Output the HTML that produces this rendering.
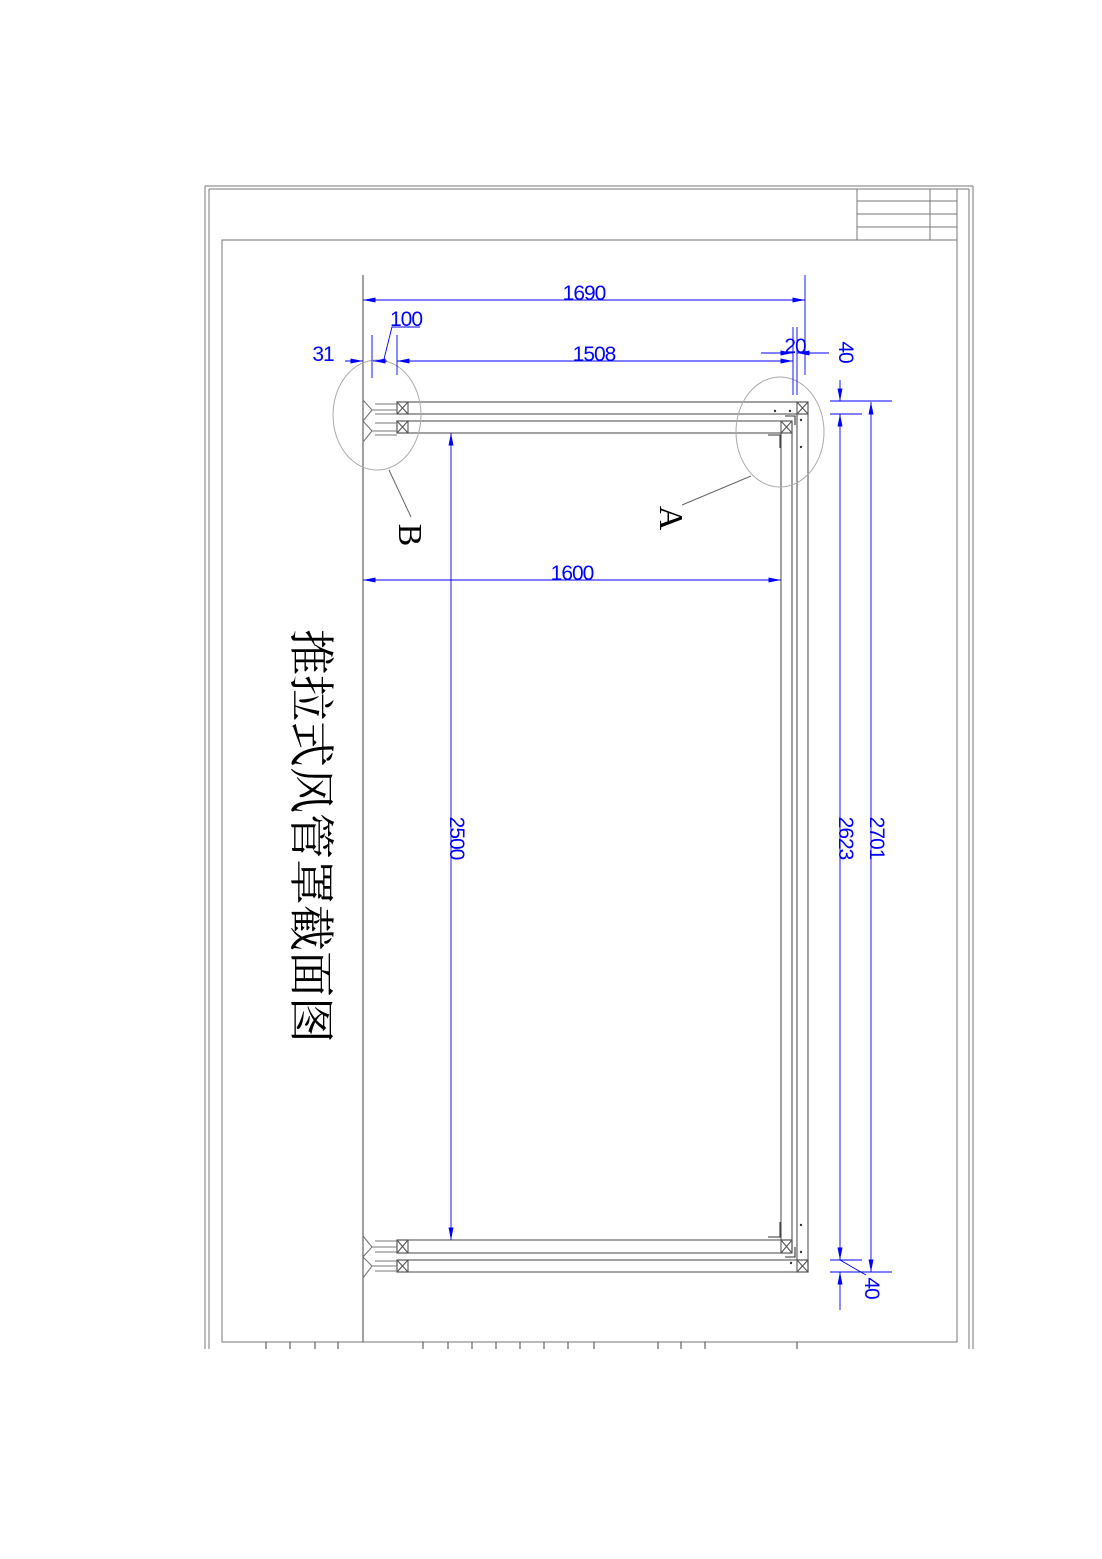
<!DOCTYPE html>
<html><head><meta charset="utf-8"><style>
html,body{margin:0;padding:0;background:#fff}
svg{display:block}
</style></head><body>
<svg width="1102" height="1559" viewBox="0 0 1102 1559" xmlns="http://www.w3.org/2000/svg" font-family="Liberation Sans, sans-serif">
<defs>
<marker id="b" viewBox="0 0 10 4" refX="10" refY="2" markerWidth="16" markerHeight="5" markerUnits="userSpaceOnUse" orient="auto-start-reverse"><path d="M0,0 L10,2 L0,4 z" fill="#00f"/></marker>
</defs>
<!-- frame -->
<g stroke="#777" fill="none" stroke-width="1">
<line x1="205" y1="186" x2="973" y2="186"/>
<line x1="209" y1="189" x2="969" y2="189"/>
<line x1="205" y1="186" x2="205" y2="1349"/>
<line x1="209" y1="189" x2="209" y2="1349"/>
<line x1="973" y1="186" x2="973" y2="1349"/>
<line x1="969" y1="189" x2="969" y2="1349"/>
<rect x="222" y="240" width="735" height="1102"/>
<line x1="957" y1="189" x2="957" y2="240"/>
<line x1="857" y1="189" x2="857" y2="240"/>
<line x1="930" y1="189" x2="930" y2="240"/>
<line x1="857" y1="201" x2="957" y2="201"/>
<line x1="857" y1="214" x2="957" y2="214"/>
<line x1="857" y1="227" x2="957" y2="227"/>
<g stroke="#444">
<line x1="266" y1="1342" x2="266" y2="1349"/><line x1="290" y1="1342" x2="290" y2="1349"/>
<line x1="315" y1="1342" x2="315" y2="1349"/><line x1="338" y1="1342" x2="338" y2="1349"/>
<line x1="423" y1="1342" x2="423" y2="1349"/><line x1="448" y1="1342" x2="448" y2="1349"/>
<line x1="472" y1="1342" x2="472" y2="1349"/><line x1="496" y1="1342" x2="496" y2="1349"/>
<line x1="520" y1="1342" x2="520" y2="1349"/><line x1="544" y1="1342" x2="544" y2="1349"/>
<line x1="568" y1="1342" x2="568" y2="1349"/><line x1="594" y1="1342" x2="594" y2="1349"/>
<line x1="658" y1="1342" x2="658" y2="1349"/><line x1="681" y1="1342" x2="681" y2="1349"/>
<line x1="705" y1="1342" x2="705" y2="1349"/><line x1="797" y1="1342" x2="797" y2="1349"/>
</g>
</g>
<!-- structure -->
<g stroke="#555" fill="none" stroke-width="1.1">
<line x1="363" y1="275" x2="363" y2="1342"/>
<rect x="397" y="402" width="411" height="12"/>
<rect x="397" y="421" width="395" height="12"/>
<rect x="397" y="402" width="11" height="12"/><path d="M397,402 L408,414 M408,402 L397,414"/>
<rect x="397" y="421" width="11" height="12"/><path d="M397,421 L408,433 M408,421 L397,433"/>
<rect x="797" y="402" width="11" height="12"/><path d="M797,402 L808,414 M808,402 L797,414"/>
<rect x="781" y="421" width="11" height="12"/><path d="M781,421 L792,433 M792,421 L781,433"/>
<line x1="797" y1="414" x2="797" y2="1260"/><line x1="808" y1="414" x2="808" y2="1272"/>
<line x1="781" y1="433" x2="781" y2="1240"/><line x1="792" y1="433" x2="792" y2="1253"/>
<rect x="397" y="1240" width="395" height="13"/>
<rect x="397" y="1260" width="411" height="12"/>
<rect x="397" y="1240" width="11" height="13"/><path d="M397,1240 L408,1253 M408,1240 L397,1253"/>
<rect x="397" y="1260" width="11" height="12"/><path d="M397,1260 L408,1272 M408,1260 L397,1272"/>
<rect x="781" y="1240" width="11" height="13"/><path d="M781,1240 L792,1253 M792,1240 L781,1253"/>
<rect x="797" y="1260" width="11" height="12"/><path d="M797,1260 L808,1272 M808,1260 L797,1272"/>
<g stroke="#777">
<path d="M363,400 L372,410 L363,421 L372,431 L363,442"/>
<path d="M372,410 L397,410 M375,404 L397,404 M375,414 L397,414"/>
<path d="M372,431 L397,431 M375,423 L397,423 M375,435 L397,435"/>
<path d="M363,1236 L372,1247 L363,1257 L372,1266 L363,1278"/>
<path d="M372,1247 L397,1247 M375,1241 L397,1241 M375,1252 L397,1252"/>
<path d="M372,1266 L397,1266 M375,1261 L397,1261 M375,1271 L397,1271"/>
</g>
<path d="M768,435 L780,435 L780,448" stroke="#333"/>
<path d="M785,416 L795,416 L795,425" stroke="#333"/>
<path d="M768,1237 L780,1237 L780,1222" stroke="#333"/>
<path d="M785,1257 L795,1257 L795,1247" stroke="#333"/>
<ellipse cx="377" cy="415" rx="44" ry="55" stroke="#aaa" stroke-width="1"/>
<ellipse cx="780" cy="432" rx="44" ry="55" stroke="#aaa" stroke-width="1"/>
<line x1="389" y1="470" x2="411" y2="517" stroke="#666" stroke-width="1"/>
<line x1="751" y1="476" x2="682" y2="505" stroke="#666" stroke-width="1"/>
</g>
<g fill="#333">
<circle cx="775" cy="411" r="1.2"/><circle cx="790" cy="411" r="1.2"/><circle cx="801" cy="420" r="1.2"/><circle cx="801" cy="447" r="1.2"/>
<circle cx="801" cy="1225" r="1.2"/><circle cx="801" cy="1252" r="1.2"/><circle cx="791" cy="1263" r="1.2"/>
</g>
<!-- dimensions -->
<g stroke="#00f" stroke-width="0.9" fill="none">
<line x1="805" y1="275" x2="805" y2="375"/>
<line x1="363" y1="300" x2="805" y2="300" marker-start="url(#b)" marker-end="url(#b)"/>
<line x1="372" y1="335" x2="372" y2="378"/>
<line x1="397" y1="335" x2="397" y2="375"/>
<line x1="345" y1="361" x2="363" y2="361" marker-end="url(#b)"/>
<line x1="387" y1="361" x2="373" y2="361" marker-end="url(#b)"/>
<line x1="397" y1="361" x2="793" y2="361" marker-start="url(#b)" marker-end="url(#b)"/>
<path d="M384,359 L392,327 L420,327"/>
<line x1="793" y1="327" x2="793" y2="395"/>
<line x1="797" y1="327" x2="797" y2="395"/>
<line x1="761" y1="353" x2="793" y2="353" marker-end="url(#b)"/>
<line x1="829" y1="353" x2="797" y2="353" marker-end="url(#b)"/>
<line x1="840" y1="380" x2="840" y2="401" marker-end="url(#b)"/>
<line x1="830" y1="401" x2="892" y2="401"/>
<line x1="830" y1="414" x2="862" y2="414"/>
<line x1="363" y1="580" x2="781" y2="580" marker-start="url(#b)" marker-end="url(#b)"/>
<line x1="451" y1="433" x2="451" y2="1240" marker-start="url(#b)" marker-end="url(#b)"/>
<line x1="840" y1="414" x2="840" y2="1260" marker-start="url(#b)" marker-end="url(#b)"/>
<line x1="871" y1="402" x2="871" y2="1272" marker-start="url(#b)" marker-end="url(#b)"/>
<line x1="840" y1="1310" x2="840" y2="1272" marker-end="url(#b)"/>
<line x1="830" y1="1260" x2="862" y2="1260"/>
<line x1="830" y1="1272" x2="892" y2="1272"/>
<path d="M840,1260 L866,1275"/>
</g>
<g fill="#00f" font-size="21" letter-spacing="-1">
<text x="584" y="300" text-anchor="middle">1690</text>
<text x="406" y="326" text-anchor="middle">100</text>
<text x="323" y="361" text-anchor="middle">31</text>
<text x="594" y="361" text-anchor="middle">1508</text>
<text x="795" y="353" text-anchor="middle">20</text>
<text x="572" y="580" text-anchor="middle">1600</text>
<text transform="translate(839,352) rotate(90)" text-anchor="middle">40</text>
<text transform="translate(450,838) rotate(90)" text-anchor="middle">2500</text>
<text transform="translate(839,838) rotate(90)" text-anchor="middle">2623</text>
<text transform="translate(870,838) rotate(90)" text-anchor="middle">2701</text>
<text transform="translate(865,1288) rotate(90)" text-anchor="middle">40</text>
</g>
<g fill="#000" font-family="Liberation Serif, serif" font-size="34">
<text transform="translate(399,535) rotate(90)" text-anchor="middle">B</text>
<text transform="translate(660,518) rotate(90)" text-anchor="middle">A</text>
</g>
<text transform="translate(295,836) rotate(90)" text-anchor="middle" font-family="Liberation Serif, 'Noto Serif CJK SC', serif" font-size="46" fill="#000">推拉式风管罩截面图</text>
</svg>
</body></html>
